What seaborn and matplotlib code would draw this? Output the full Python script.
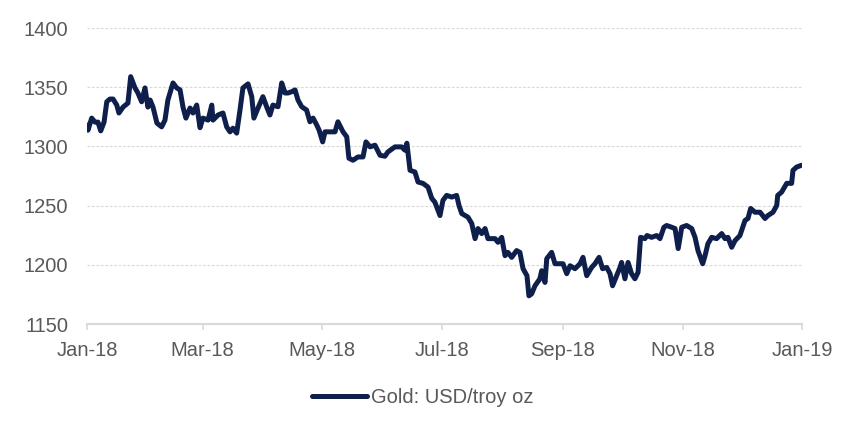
import pandas as pd
import matplotlib.pyplot as plt
import seaborn as sns

sns.set_style("white")
plt.rcParams['font.family'] = ['Liberation Sans', 'DejaVu Sans']

# days since 2018-01-01 and gold price (USD/troy oz)
days = [0, 0.5, 2.4, 4.1, 5.6, 7.0, 8.7, 10.1, 11.7, 13.3, 15.2, 16.3, 18.4, 20.9,
        22.3, 24.5, 26.0, 27.9, 29.6, 31.1, 32.2, 33.7, 35.7, 38.1, 39.8, 41.3,
        43.9, 45.8, 47.5, 49.0, 50.5, 52.6, 54.1, 56.0, 57.7, 59.2, 61.8, 63.7,
        64.3, 66.9, 69.4, 71.3, 73.0, 74.5, 76.4, 78.1, 79.6, 82.2, 84.1, 85.2,
        87.3, 89.8, 91.7, 93.4, 94.9, 97.5, 99.4, 101.1, 102.6, 104.5, 106.2,
        107.7, 109.6, 112.1, 113.8, 115.4, 117.3, 118.5, 120.3, 121.5, 124.0,
        126.6, 128.1, 130.7, 132.6, 133.7, 135.8, 138.3, 140.9, 142.4, 144.5,
        147.0, 149.6, 152.1, 153.6, 157.2, 160.6, 162.3, 163.3, 164.9, 167.4,
        169.0, 171.5, 174.1, 176.0, 177.6, 180.2, 181.7, 183.6, 186.2, 188.7,
        189.9, 191.3, 193.0, 194.5, 196.4, 198.1, 199.6, 201.5, 203.2, 204.7,
        206.6, 208.3, 209.8, 211.7, 213.4, 214.9, 216.8, 219.3, 221.0, 222.6,
        224.6, 225.6, 227.0, 228.7, 231.2, 232.1, 233.8, 234.7, 237.2, 238.9,
        240.4, 243.0, 244.9, 246.6, 249.1, 251.7, 253.2, 255.1, 257.6, 259.3,
        261.4, 263.2, 265.3, 267.0, 268.3, 270.4, 272.1, 272.9, 274.6, 276.2,
        278.0, 279.7, 281.3, 282.6, 284.8, 285.9, 288.2, 290.8, 292.5, 294.5,
        295.9, 298.5, 300.2, 301.8, 303.6, 306.1, 308.7, 310.4, 311.9, 314.3,
        315.5, 317.0, 318.9, 321.4, 324.0, 325.7, 327.2, 329.1, 330.8, 333.3,
        335.9, 337.4, 338.8, 341.0, 343.6, 346.1, 347.6, 350.2, 352.1, 352.6,
        354.6, 357.2, 359.7, 360.4, 362.3, 364.8]

price = [1318.0, 1313.7, 1323.9, 1320.5, 1320.5, 1313.1, 1320.5, 1337.7, 1340.0,
         1340.0, 1334.9, 1328.2, 1333.2, 1336.6, 1358.9, 1349.4, 1345.1, 1337.7,
         1349.4, 1333.2, 1339.2, 1333.2, 1319.7, 1316.5, 1322.2, 1339.2, 1353.6,
         1349.4, 1347.7, 1333.2, 1323.9, 1332.4, 1328.2, 1334.9, 1315.8, 1323.9,
         1322.2, 1334.9, 1322.2, 1326.5, 1328.2, 1316.5, 1312.3, 1315.4, 1311.2,
         1330.7, 1349.4, 1352.8, 1342.0, 1323.9, 1332.4, 1342.0, 1333.5, 1326.5,
         1334.9, 1333.5, 1353.6, 1345.1, 1345.1, 1346.2, 1347.7, 1339.2, 1333.5,
         1330.7, 1320.8, 1323.9, 1318.0, 1313.7, 1303.8, 1312.3, 1312.3, 1312.3,
         1320.8, 1312.3, 1308.1, 1290.0, 1288.3, 1291.1, 1291.1, 1303.8, 1299.6,
         1301.0, 1292.5, 1291.7, 1295.3, 1299.6, 1299.6, 1296.8, 1302.7, 1279.8,
         1278.4, 1269.9, 1268.8, 1265.6, 1256.1, 1252.9, 1241.6, 1254.4, 1258.6,
         1257.2, 1258.6, 1250.1, 1243.3, 1241.6, 1240.2, 1234.9, 1222.1, 1230.6,
         1226.4, 1230.6, 1222.1, 1222.1, 1222.1, 1219.0, 1223.2, 1207.7, 1210.5,
         1206.3, 1212.0, 1210.5, 1196.7, 1190.8, 1173.8, 1175.5, 1182.3, 1188.2,
         1195.0, 1185.1, 1205.2, 1210.5, 1200.9, 1200.9, 1200.9, 1192.5, 1199.2,
         1196.7, 1200.9, 1206.3, 1190.8, 1197.8, 1200.9, 1206.3, 1196.7, 1197.8,
         1192.5, 1182.3, 1190.8, 1197.8, 1202.0, 1188.2, 1202.0, 1192.5, 1188.2,
         1193.6, 1223.2, 1222.1, 1224.7, 1223.2, 1224.7, 1222.1, 1231.7, 1233.2,
         1231.7, 1230.6, 1213.7, 1231.7, 1233.2, 1230.6, 1223.2, 1212.0, 1200.9,
         1207.7, 1217.9, 1223.2, 1222.1, 1226.4, 1222.1, 1223.2, 1214.8, 1220.4,
         1224.7, 1237.4, 1239.1, 1247.6, 1244.4, 1244.4, 1239.1, 1241.6, 1244.4,
         1250.1, 1258.6, 1261.4, 1268.8, 1268.8, 1279.8, 1282.6, 1284.1]

y_ticks = [1150, 1200, 1250, 1300, 1350, 1400]
x_tick_labels = ['Jan-18', 'Mar-18', 'May-18', 'Jul-18', 'Sep-18', 'Nov-18', 'Jan-19']

df = pd.DataFrame({
    'date': pd.Timestamp('2018-01-01') + pd.to_timedelta(days, unit='D'),
    'Gold: USD/troy oz': price,
})

fig = plt.figure(figsize=(8.46, 4.33), dpi=100)
ax = fig.add_axes([87 / 846, 1 - 324 / 433, 715 / 846, 296 / 433])

sns.lineplot(data=df, x='date', y='Gold: USD/troy oz', ax=ax, color='#0f1f4b',
             linewidth=3.6, label='Gold: USD/troy oz', solid_joinstyle='round')

ax.set_xlim(pd.Timestamp('2018-01-01'), pd.Timestamp('2019-01-01'))
ax.set_ylim(1150, 1400)
ax.set_yticks(y_ticks)
x_ticks = pd.to_datetime(['2018-01-01', '2018-03-01', '2018-05-01', '2018-07-01',
                          '2018-09-01', '2018-11-01', '2019-01-01'])
ax.set_xticks(x_ticks)
ax.set_xticklabels(x_tick_labels)
ax.set_xlabel('')
ax.set_ylabel('')

ax.grid(axis='y', color='#d9d9d9', linestyle=(0, (2.5, 1.5)), linewidth=0.8)
ax.grid(axis='x', visible=False)
for s in ['top', 'right', 'left']:
    ax.spines[s].set_visible(False)
ax.spines['bottom'].set_color('#d9d9d9')
ax.spines['bottom'].set_linewidth(1.5)

ax.tick_params(axis='x', direction='out', length=4, width=1.2, color='#d9d9d9',
               labelsize=14.5, labelcolor='#595959', pad=8, bottom=True)
ax.tick_params(axis='y', length=0, labelsize=14.5, labelcolor='#595959', pad=13.5)

ax.legend(loc='center', bbox_to_anchor=(0.5, 0.081), bbox_transform=fig.transFigure,
          frameon=False, fontsize=14.5, labelcolor='#595959', handlelength=2.75,
          handletextpad=0.2)

fig.savefig('out.png', dpi=100)
